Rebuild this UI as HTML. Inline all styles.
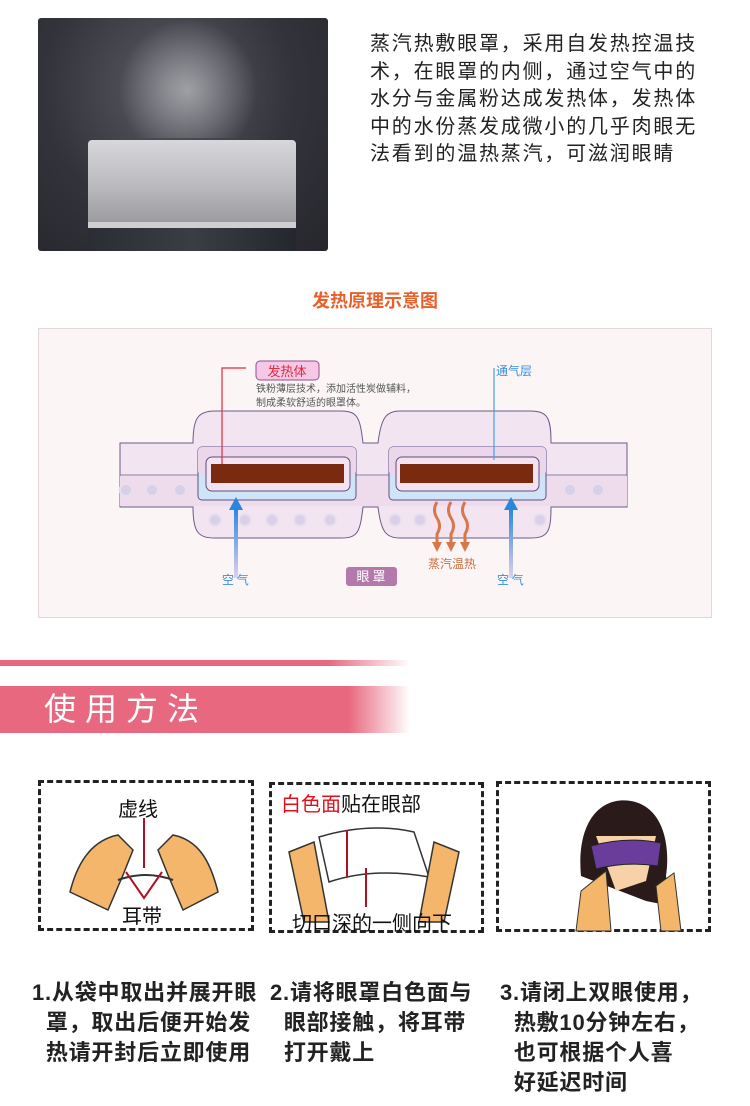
<!DOCTYPE html>
<html><head><meta charset="utf-8"><style>
body{margin:0;width:750px;height:1106px;background:#fff;position:relative;overflow:hidden;font-family:"Liberation Sans","Noto Sans CJK SC",sans-serif}
.a{position:absolute;white-space:nowrap}
.intro{left:370px;top:31px;font-size:20px;letter-spacing:1.8px;line-height:27.5px;color:#222}
.t{font-size:22px;letter-spacing:0.8px;line-height:30px;color:#222;font-weight:bold}
.box{position:absolute;border:3px dashed #222;box-sizing:border-box}
</style></head><body>
<!-- photo -->
<div class="a" style="left:38px;top:18px;width:290px;height:233px;border-radius:3px;background:radial-gradient(ellipse at 45% 30%,#5a5a62 0%,#33333b 55%,#26262c 100%);overflow:hidden">
  <div style="position:absolute;left:80px;top:0;width:140px;height:120px;background:radial-gradient(ellipse at 50% 60%,rgba(220,220,225,.55),rgba(200,200,210,0) 70%)"></div>
  <div style="position:absolute;left:50px;top:122px;width:208px;height:82px;background:linear-gradient(#d8d8dc,#b8b8bc 60%,#9c9ca0);border-radius:4px 4px 0 0"></div>
  <div style="position:absolute;left:50px;top:204px;width:208px;height:6px;background:#cfcfd2"></div>
  <div style="position:absolute;left:50px;top:210px;width:208px;height:23px;background:linear-gradient(90deg,#2a2e34,#3a3e44,#24282e)"></div>
</div>
<div class="a intro">蒸汽热敷眼罩，采用自发热控温技<br>术，在眼罩的内侧，通过空气中的<br>水分与金属粉达成发热体，发热体<br>中的水份蒸发成微小的几乎肉眼无<br>法看到的温热蒸汽，可滋润眼睛</div>
<div class="a" style="left:0;width:750px;top:287px;text-align:center;font-size:18px;font-weight:bold;color:#e8612c">发热原理示意图</div>
<!-- diagram -->
<svg class="a" style="left:38px;top:328px" width="674" height="290" viewBox="38 328 674 290">
<rect x="38.5" y="328.5" width="673" height="289" fill="#fbf5f6" stroke="#e6d6da"/>
<path d="M193 443 C193 418 198 411 215 411 L341 411 C358 411 360 418 363 443 L378 443 C381 418 386 411 400 411 L530 411 C548 411 551 418 551 443 L627 443 L627 507 L551 507 C551 532 548 538 530 538 L400 538 C386 538 381 532 378 507 L363 507 C360 532 358 538 341 538 L215 538 C198 538 193 532 193 507 L120 507 L120 443 Z" fill="#f3e4f1" stroke="#6b5a86" stroke-width="1"/>
<line x1="120" y1="475" x2="627" y2="475" stroke="#8a7aa8"/>
<rect x="120" y="476" width="507" height="30" fill="#eedcec"/>
<g fill="#d4cde6" stroke="#e6e0f0" stroke-width="2" opacity=".8">
<circle cx="126" cy="490" r="6"/><circle cx="152" cy="490" r="6"/><circle cx="180" cy="490" r="6"/><circle cx="570" cy="490" r="6"/><circle cx="598" cy="490" r="6"/>
<circle cx="215" cy="520" r="6"/><circle cx="245" cy="520" r="6"/><circle cx="272" cy="520" r="6"/><circle cx="300" cy="520" r="6"/><circle cx="330" cy="520" r="6"/><circle cx="395" cy="520" r="6"/><circle cx="420" cy="520" r="6"/><circle cx="540" cy="520" r="6"/></g>
<rect x="198" y="447" width="158" height="53" rx="4" fill="#cfe4f6" stroke="#5d4f82"/>
<rect x="198" y="447" width="158" height="28" rx="4" fill="#ecd6ea"/>
<rect x="206" y="457" width="144" height="34" rx="6" fill="#f4e2f1" stroke="#5d4f82"/>
<rect x="211" y="464" width="133" height="19" fill="#7a2a0e"/>
<rect x="389" y="447" width="157" height="53" rx="4" fill="#cfe4f6" stroke="#5d4f82"/>
<rect x="389" y="447" width="157" height="28" rx="4" fill="#ecd6ea"/>
<rect x="396" y="457" width="143" height="34" rx="6" fill="#f4e2f1" stroke="#5d4f82"/>
<rect x="400" y="464" width="133" height="19" fill="#7a2a0e"/>
<polyline points="246,368 222,368 222,464" fill="none" stroke="#e3293a" stroke-width="1.2"/>
<rect x="256" y="361" width="63" height="19" rx="4" fill="#f4c8e6" stroke="#9a4b8a"/>
<text x="287" y="376" font-size="13" fill="#e3293a" text-anchor="middle" font-family="Noto Sans CJK SC">发热体</text>
<text x="256" y="392" font-size="10" fill="#555" font-family="Noto Sans CJK SC">铁粉薄层技术，添加活性炭做辅料，</text>
<text x="256" y="406" font-size="10" fill="#555" font-family="Noto Sans CJK SC">制成柔软舒适的眼罩体。</text>
<line x1="494" y1="368" x2="494" y2="460" stroke="#4a9ee8" stroke-width="1.2"/>
<text x="496" y="375" font-size="12" fill="#3a8ee0" font-family="Noto Sans CJK SC">通气层</text>
<defs><linearGradient id="bl" x1="0" y1="1" x2="0" y2="0"><stop offset="0" stop-color="#e0d0ee"/><stop offset="1" stop-color="#2a86dc"/></linearGradient></defs>
<rect x="234" y="508" width="4" height="70" fill="url(#bl)"/><polygon points="229,510 236,497 243,510" fill="#2a86dc"/>
<rect x="509" y="508" width="4" height="70" fill="url(#bl)"/><polygon points="504,510 511,497 518,510" fill="#2a86dc"/>
<text x="222" y="584" font-size="12" fill="#3a8ee0" font-family="Noto Sans CJK SC">空 气</text>
<text x="497" y="584" font-size="12" fill="#3a8ee0" font-family="Noto Sans CJK SC">空 气</text>
<g fill="none" stroke="#d9774a" stroke-width="3">
<path d="M437 502 q-5 8 0 16 q5 8 0 16 l0 8"/><path d="M451 502 q-5 8 0 16 q5 8 0 16 l0 8"/><path d="M465 502 q-5 8 0 16 q5 8 0 16 l0 8"/></g>
<g fill="#d9774a"><polygon points="432,542 437,552 442,542"/><polygon points="446,542 451,552 456,542"/><polygon points="460,542 465,552 470,542"/></g>
<text x="428" y="568" font-size="12" fill="#c9703f" font-family="Noto Sans CJK SC">蒸汽温热</text>
<rect x="346" y="567" width="51" height="19" rx="3" fill="#b479ab"/>
<text x="371" y="581" font-size="13" fill="#fff" text-anchor="middle" font-family="Noto Sans CJK SC">眼 罩</text>
</svg>
<!-- header bands -->
<div class="a" style="left:0;top:660px;width:410px;height:6px;background:linear-gradient(90deg,#e8687f 0%,#e8687f 80%,rgba(232,104,127,0))"></div>
<div class="a" style="left:0;top:686px;width:410px;height:47px;background:linear-gradient(90deg,#e8687f 0%,#e8687f 85%,rgba(232,104,127,0))"></div>
<div class="a" style="left:44px;top:684px;font-size:32px;color:#fff;letter-spacing:9px;font-family:'Noto Sans CJK SC',sans-serif">使用方法</div>
<!-- boxes -->
<div class="box" style="left:38px;top:780px;width:216px;height:151px"></div>
<div class="box" style="left:269px;top:782px;width:215px;height:151px"></div>
<div class="box" style="left:496px;top:781px;width:215px;height:151px"></div>
<!-- box1 art -->
<svg class="a" style="left:38px;top:780px" width="216" height="151">
<path d="M32 112 C40 80 55 60 80 55 L95 70 L85 95 L70 130 Z" fill="#f4b66a" stroke="#333" stroke-width="1.5"/>
<path d="M180 112 C172 80 160 60 135 55 L120 70 L130 95 L145 130 Z" fill="#f4b66a" stroke="#333" stroke-width="1.5"/>
<path d="M80 100 Q108 90 135 100" fill="none" stroke="#333" stroke-width="2"/>
<line x1="106" y1="38" x2="106" y2="88" stroke="#b01020" stroke-width="2"/>
<polyline points="88,92 106,118 124,92" fill="none" stroke="#b01020" stroke-width="2"/>
</svg>
<div class="a" style="left:118px;top:793px;font-size:20px;color:#111">虚线</div>
<div class="a" style="left:122px;top:900px;font-size:20px;color:#111">耳带</div>
<!-- box2 art -->
<svg class="a" style="left:269px;top:782px" width="215" height="151">
<path d="M50 55 Q100 40 145 50 L160 95 Q105 85 60 100 Z" fill="#fff" stroke="#333" stroke-width="1.5"/>
<path d="M20 70 L45 60 L60 140 L35 140 Z" fill="#f4b66a" stroke="#333" stroke-width="1.5"/>
<path d="M190 70 L165 60 L150 140 L175 140 Z" fill="#f4b66a" stroke="#333" stroke-width="1.5"/>
<line x1="78" y1="48" x2="78" y2="95" stroke="#b01020" stroke-width="2"/>
<line x1="97" y1="86" x2="97" y2="125" stroke="#b01020" stroke-width="2"/>
</svg>
<div class="a" style="left:281px;top:788px;font-size:20px;color:#111"><span style="color:#e0101c">白色面</span>贴在眼部</div>
<div class="a" style="left:292px;top:907px;font-size:20px;color:#111">切口深的一侧向下</div>
<!-- box3 art -->
<svg class="a" style="left:496px;top:781px" width="215" height="151">
<path d="M85 95 C80 40 105 15 135 20 C165 25 175 60 170 95 L175 125 L150 120 Z" fill="#2a1a1a"/>
<path d="M100 55 L160 55 L150 100 L120 110 Z" fill="#f7d2a8"/>
<path d="M95 65 Q130 55 165 62 L162 85 Q130 80 100 88 Z" fill="#6a3d9c" stroke="#222"/>
<path d="M80 150 L85 110 L110 90 L115 150 Z M165 150 L160 105 L178 92 L185 150 Z" fill="#f4b66a" stroke="#333"/>
</svg>
<!-- steps -->
<div class="a t" style="left:32px;top:978px">1.从袋中取出并展开眼<br>&nbsp;&nbsp;罩，取出后便开始发<br>&nbsp;&nbsp;热请开封后立即使用</div>
<div class="a t" style="left:270px;top:978px">2.请将眼罩白色面与<br>&nbsp;&nbsp;眼部接触，将耳带<br>&nbsp;&nbsp;打开戴上</div>
<div class="a t" style="left:500px;top:978px">3.请闭上双眼使用，<br>&nbsp;&nbsp;热敷10分钟左右，<br>&nbsp;&nbsp;也可根据个人喜<br>&nbsp;&nbsp;好延迟时间</div>
</body></html>
